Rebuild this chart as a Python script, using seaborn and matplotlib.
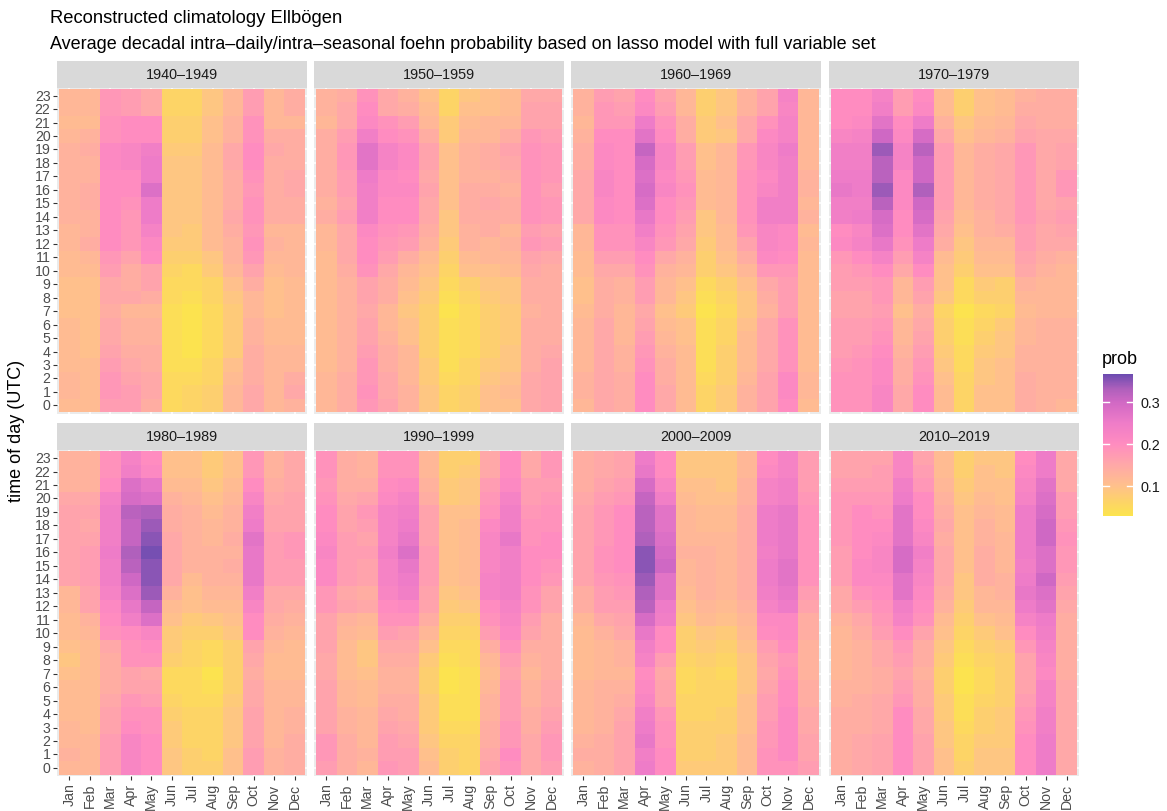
import numpy as np
import pandas as pd
import matplotlib
matplotlib.use("Agg")
import matplotlib.pyplot as plt
import seaborn as sns
from matplotlib.colors import LinearSegmentedColormap

plt.rcParams["font.family"] = ["Liberation Sans", "DejaVu Sans"]

months = ["Jan", "Feb", "Mar", "Apr", "May", "Jun",
          "Jul", "Aug", "Sep", "Oct", "Nov", "Dec"]
hours = list(range(23, -1, -1))  # row order as drawn, top to bottom
decades = ["1940–1949", "1950–1959", "1960–1969", "1970–1979",
           "1980–1989", "1990–1999", "2000–2009", "2010–2019"]

# foehn probability in percent; one list per month, hours 23 -> 0
p1940 = [
    [12, 12, 11, 12, 13, 13, 13, 13, 13, 13, 12, 12, 11, 11, 10, 10, 10, 11, 11, 11, 11, 12, 12, 11],
    [12, 12, 11, 13, 14, 13, 13, 14, 14, 13, 13, 14, 12, 11, 10, 10, 10, 10, 10, 10, 11, 11, 11, 11],
    [18, 18, 19, 19, 21, 21, 20, 20, 20, 20, 20, 20, 18, 17, 15, 15, 14, 15, 15, 16, 17, 18, 18, 17],
    [17, 17, 20, 20, 22, 22, 20, 20, 19, 18, 18, 18, 16, 14, 14, 15, 12, 13, 13, 14, 15, 16, 17, 17],
    [15, 15, 20, 20, 24, 25, 25, 28, 25, 25, 23, 21, 20, 16, 16, 14, 12, 13, 13, 14, 14, 15, 15, 14],
    [6, 6, 7, 7, 8, 9, 9, 9, 9, 9, 9, 8, 7, 6, 5, 5, 4, 4, 4, 4, 4, 5, 5, 5],
    [6, 6, 7, 7, 8, 9, 9, 9, 9, 9, 8, 8, 7, 5, 5, 4, 3, 3, 3, 3, 4, 5, 6, 6],
    [9, 9, 10, 10, 11, 11, 11, 11, 11, 11, 11, 11, 9, 8, 6, 6, 5, 5, 5, 5, 6, 6, 7, 7],
    [12, 12, 13, 13, 15, 15, 14, 14, 14, 15, 14, 13, 13, 12, 10, 9, 8, 8, 8, 8, 10, 11, 12, 12],
    [17, 17, 19, 19, 20, 20, 19, 18, 19, 19, 18, 19, 18, 16, 14, 12, 12, 13, 13, 14, 14, 14, 15, 15],
    [12, 12, 12, 14, 15, 14, 14, 14, 14, 14, 12, 13, 12, 11, 10, 10, 10, 11, 11, 12, 12, 12, 12, 12],
    [14, 14, 12, 14, 14, 14, 15, 15, 14, 14, 12, 12, 12, 12, 11, 11, 11, 11, 11, 12, 12, 14, 15, 13],
]
p1950 = [
    [13, 13, 12, 14, 14, 14, 14, 14, 13, 14, 12, 12, 11, 11, 11, 11, 11, 11, 11, 11, 11, 12, 12, 12],
    [14, 15, 15, 17, 18, 18, 17, 17, 16, 17, 15, 15, 15, 14, 13, 13, 13, 13, 13, 13, 13, 14, 14, 14],
    [19, 20, 21, 24, 27, 27, 25, 24, 24, 24, 21, 20, 20, 19, 16, 16, 15, 16, 16, 17, 18, 18, 19, 18],
    [15, 15, 19, 20, 23, 23, 21, 21, 20, 20, 19, 18, 17, 15, 14, 14, 12, 12, 13, 14, 14, 15, 15, 16],
    [13, 14, 17, 19, 21, 21, 20, 21, 20, 20, 18, 17, 14, 12, 11, 10, 9, 10, 10, 12, 12, 12, 13, 13],
    [10, 11, 12, 14, 16, 16, 15, 16, 15, 15, 14, 13, 11, 10, 9, 8, 7, 7, 7, 7, 8, 8, 9, 9],
    [6, 6, 8, 8, 10, 10, 10, 10, 10, 9, 9, 8, 7, 6, 5, 4, 3, 4, 4, 4, 4, 5, 6, 6],
    [9, 10, 11, 12, 13, 13, 13, 14, 14, 14, 13, 13, 11, 10, 7, 6, 5, 5, 5, 5, 6, 6, 7, 7],
    [10, 10, 12, 12, 14, 14, 13, 14, 15, 14, 14, 12, 12, 10, 9, 8, 7, 7, 7, 7, 8, 9, 10, 10],
    [11, 11, 12, 14, 16, 15, 14, 13, 14, 14, 12, 13, 12, 11, 9, 9, 8, 8, 8, 9, 9, 10, 11, 10],
    [15, 16, 16, 18, 19, 19, 19, 19, 19, 19, 17, 18, 16, 15, 14, 14, 13, 14, 14, 14, 14, 15, 15, 15],
    [15, 16, 16, 17, 18, 18, 18, 17, 18, 18, 16, 17, 15, 14, 14, 14, 14, 14, 14, 15, 16, 16, 16, 16],
]
p1960 = [
    [13, 13, 12, 13, 14, 14, 15, 15, 15, 15, 12, 12, 11, 11, 10, 10, 11, 12, 12, 12, 12, 13, 13, 12],
    [17, 18, 18, 20, 21, 21, 22, 22, 21, 21, 19, 19, 17, 15, 14, 14, 14, 15, 15, 15, 15, 15, 15, 15],
    [16, 17, 18, 20, 20, 20, 20, 20, 20, 20, 19, 19, 17, 15, 13, 13, 12, 12, 12, 13, 13, 14, 14, 14],
    [20, 21, 25, 27, 31, 29, 28, 29, 28, 26, 24, 22, 20, 19, 17, 17, 15, 16, 17, 18, 19, 20, 20, 20],
    [16, 17, 19, 20, 22, 22, 21, 22, 20, 20, 19, 18, 15, 13, 12, 12, 10, 11, 12, 13, 14, 14, 15, 15],
    [12, 12, 14, 14, 17, 17, 18, 19, 18, 17, 16, 15, 13, 12, 10, 9, 8, 10, 10, 11, 11, 11, 11, 11],
    [7, 7, 8, 8, 10, 10, 11, 11, 11, 9, 9, 8, 7, 7, 5, 4, 3, 4, 4, 4, 4, 5, 6, 6],
    [9, 9, 10, 9, 12, 12, 12, 12, 12, 12, 11, 11, 10, 9, 7, 6, 5, 6, 6, 7, 7, 7, 8, 8],
    [13, 13, 15, 15, 18, 18, 19, 19, 19, 19, 18, 16, 14, 12, 10, 9, 9, 10, 11, 11, 11, 12, 13, 13],
    [16, 16, 19, 21, 22, 22, 21, 22, 24, 24, 22, 22, 21, 18, 15, 14, 13, 15, 15, 15, 15, 16, 16, 16],
    [23, 22, 23, 23, 25, 24, 24, 24, 24, 24, 21, 21, 20, 18, 17, 17, 17, 19, 19, 19, 19, 21, 21, 20],
    [12, 12, 12, 12, 12, 12, 13, 13, 12, 13, 11, 12, 11, 11, 11, 11, 11, 11, 11, 11, 11, 12, 12, 11],
]
p1970 = [
    [20, 20, 20, 22, 24, 24, 25, 26, 24, 24, 20, 21, 18, 17, 17, 16, 16, 17, 17, 17, 18, 19, 19, 19],
    [20, 20, 21, 23, 24, 24, 25, 25, 24, 25, 22, 23, 20, 18, 17, 16, 16, 17, 17, 18, 19, 19, 19, 19],
    [23, 24, 27, 30, 34, 32, 32, 34, 32, 29, 28, 26, 23, 20, 18, 18, 17, 18, 19, 20, 21, 21, 22, 22],
    [17, 17, 20, 21, 23, 23, 21, 21, 21, 20, 20, 19, 17, 15, 12, 12, 10, 12, 12, 13, 14, 14, 15, 15],
    [20, 21, 25, 29, 32, 30, 30, 33, 30, 29, 27, 25, 23, 20, 17, 16, 14, 15, 16, 17, 18, 19, 20, 20],
    [11, 11, 13, 15, 17, 17, 17, 17, 17, 16, 15, 14, 11, 10, 10, 9, 6, 7, 7, 8, 9, 10, 11, 11],
    [7, 7, 9, 10, 12, 12, 12, 12, 12, 11, 10, 9, 8, 7, 5, 5, 3, 4, 4, 5, 5, 6, 6, 6],
    [10, 10, 11, 12, 14, 14, 14, 14, 14, 13, 13, 12, 11, 10, 8, 7, 5, 6, 7, 8, 9, 9, 10, 10],
    [11, 11, 12, 13, 15, 15, 15, 15, 15, 15, 14, 12, 11, 10, 7, 7, 6, 8, 9, 9, 10, 10, 10, 10],
    [13, 14, 15, 16, 18, 18, 18, 18, 18, 18, 17, 17, 16, 15, 13, 12, 11, 12, 12, 13, 13, 14, 14, 14],
    [14, 14, 14, 15, 15, 15, 15, 15, 15, 16, 15, 15, 14, 13, 12, 12, 12, 13, 13, 13, 13, 13, 13, 13],
    [14, 14, 14, 15, 16, 16, 18, 18, 16, 17, 16, 15, 13, 12, 12, 12, 12, 13, 13, 13, 13, 13, 13, 12],
]
p1980 = [
    [13, 13, 13, 15, 16, 16, 16, 16, 16, 16, 12, 12, 11, 11, 10, 9, 10, 11, 11, 11, 12, 12, 13, 12],
    [13, 13, 13, 15, 16, 15, 16, 17, 17, 17, 16, 16, 13, 12, 11, 11, 11, 11, 11, 11, 11, 12, 12, 12],
    [19, 19, 20, 23, 24, 24, 24, 25, 24, 24, 23, 21, 20, 19, 15, 14, 14, 14, 15, 16, 16, 17, 17, 17],
    [23, 24, 28, 29, 32, 31, 31, 33, 32, 30, 28, 26, 24, 20, 19, 19, 16, 16, 18, 19, 20, 22, 22, 22],
    [20, 21, 26, 28, 33, 34, 35, 36, 35, 35, 34, 31, 28, 22, 20, 19, 15, 16, 17, 19, 19, 20, 20, 20],
    [10, 10, 11, 13, 14, 14, 15, 15, 15, 15, 13, 11, 10, 8, 8, 7, 5, 5, 6, 7, 8, 8, 9, 9],
    [10, 10, 11, 12, 13, 13, 13, 13, 13, 11, 10, 10, 8, 7, 6, 6, 5, 5, 5, 6, 6, 6, 7, 7],
    [8, 8, 9, 10, 11, 12, 12, 13, 13, 13, 12, 11, 9, 7, 5, 5, 3, 4, 5, 6, 6, 6, 6, 7],
    [10, 10, 11, 12, 13, 13, 14, 13, 14, 13, 12, 11, 10, 9, 7, 7, 7, 7, 8, 9, 9, 9, 10, 10],
    [18, 18, 20, 22, 24, 25, 27, 26, 26, 26, 24, 22, 20, 20, 16, 15, 14, 15, 15, 16, 16, 16, 17, 17],
    [13, 13, 14, 15, 16, 16, 17, 17, 17, 17, 15, 15, 14, 13, 12, 11, 11, 12, 12, 12, 12, 12, 13, 13],
    [15, 15, 15, 16, 16, 16, 18, 18, 17, 17, 15, 14, 13, 12, 11, 11, 11, 12, 12, 13, 13, 14, 14, 14],
]
p1990 = [
    [19, 19, 18, 19, 20, 20, 21, 22, 21, 21, 18, 18, 16, 16, 16, 15, 15, 16, 16, 16, 16, 18, 18, 17],
    [14, 14, 14, 15, 16, 16, 17, 17, 17, 17, 15, 16, 13, 12, 11, 11, 11, 12, 12, 13, 13, 14, 14, 14],
    [13, 13, 14, 16, 18, 17, 16, 17, 16, 16, 14, 15, 12, 11, 9, 9, 10, 11, 11, 12, 12, 12, 13, 12],
    [19, 19, 20, 21, 23, 23, 23, 24, 23, 23, 22, 20, 19, 17, 15, 14, 13, 13, 14, 15, 16, 17, 17, 18],
    [19, 19, 21, 23, 24, 25, 26, 28, 26, 25, 24, 21, 19, 16, 15, 14, 13, 13, 14, 14, 15, 16, 17, 17],
    [12, 12, 13, 14, 16, 16, 16, 17, 17, 17, 16, 16, 14, 12, 10, 8, 7, 7, 8, 8, 8, 9, 10, 11],
    [7, 7, 8, 8, 10, 10, 10, 10, 10, 10, 9, 8, 7, 6, 5, 4, 3, 3, 4, 4, 5, 6, 7, 7],
    [7, 8, 9, 9, 10, 11, 11, 11, 11, 11, 10, 9, 7, 6, 5, 5, 4, 4, 4, 4, 5, 6, 6, 6],
    [15, 15, 17, 18, 19, 21, 22, 22, 22, 23, 23, 20, 19, 17, 14, 12, 11, 12, 13, 13, 14, 14, 15, 16],
    [20, 20, 21, 23, 24, 24, 26, 24, 24, 24, 24, 23, 22, 21, 19, 17, 16, 17, 17, 17, 18, 18, 20, 19],
    [15, 15, 17, 17, 18, 19, 19, 20, 20, 20, 19, 19, 17, 16, 14, 13, 12, 13, 13, 14, 14, 15, 15, 15],
    [18, 18, 17, 18, 19, 19, 20, 20, 19, 18, 16, 16, 14, 14, 14, 14, 14, 15, 15, 16, 17, 18, 18, 17],
]
p2000 = [
    [14, 14, 14, 15, 16, 16, 16, 16, 16, 16, 14, 14, 12, 11, 11, 11, 11, 12, 12, 12, 12, 13, 14, 13],
    [15, 15, 16, 17, 18, 18, 18, 19, 19, 18, 17, 17, 15, 13, 12, 12, 12, 13, 13, 13, 13, 14, 14, 14],
    [16, 16, 17, 18, 20, 20, 20, 20, 20, 19, 18, 17, 16, 15, 13, 13, 12, 13, 14, 15, 16, 16, 16, 16],
    [25, 26, 29, 31, 32, 32, 33, 35, 35, 34, 33, 32, 29, 26, 24, 23, 20, 21, 22, 24, 25, 26, 24, 25],
    [20, 20, 22, 24, 27, 27, 28, 29, 30, 27, 27, 25, 24, 20, 20, 17, 15, 16, 16, 18, 19, 19, 20, 20],
    [9, 9, 10, 11, 12, 12, 12, 13, 12, 12, 11, 10, 9, 7, 7, 6, 5, 5, 6, 6, 7, 7, 7, 8],
    [9, 9, 10, 10, 11, 11, 12, 13, 13, 13, 13, 12, 11, 9, 8, 7, 6, 6, 6, 6, 7, 7, 7, 8],
    [9, 9, 9, 10, 11, 11, 12, 12, 12, 12, 12, 11, 10, 8, 7, 6, 5, 6, 6, 7, 7, 8, 8, 8],
    [12, 12, 13, 13, 14, 14, 14, 14, 14, 14, 14, 13, 12, 11, 10, 9, 9, 9, 10, 10, 10, 11, 11, 11],
    [20, 21, 23, 23, 25, 25, 25, 24, 25, 25, 24, 23, 21, 20, 17, 16, 15, 16, 17, 17, 18, 18, 19, 19],
    [23, 23, 24, 24, 26, 26, 26, 26, 27, 27, 26, 25, 21, 21, 20, 18, 19, 20, 20, 21, 21, 21, 21, 19],
    [17, 17, 17, 18, 19, 19, 19, 19, 19, 19, 17, 16, 14, 14, 13, 13, 13, 14, 14, 15, 15, 16, 16, 17],
]
p2010 = [
    [16, 16, 17, 18, 18, 18, 18, 17, 17, 17, 15, 15, 13, 12, 12, 12, 12, 13, 13, 14, 14, 14, 14, 14],
    [16, 16, 17, 18, 20, 20, 20, 20, 21, 21, 19, 17, 15, 14, 13, 13, 13, 13, 14, 14, 14, 15, 15, 15],
    [16, 17, 17, 18, 19, 20, 21, 22, 22, 21, 20, 19, 18, 17, 15, 15, 14, 14, 15, 15, 15, 16, 16, 16],
    [22, 22, 24, 25, 27, 27, 27, 29, 29, 27, 27, 24, 23, 20, 18, 17, 16, 17, 18, 20, 20, 20, 20, 20],
    [16, 17, 18, 20, 20, 21, 22, 24, 23, 22, 21, 20, 19, 16, 14, 14, 13, 14, 14, 15, 15, 16, 16, 16],
    [11, 11, 12, 13, 14, 15, 14, 15, 15, 15, 14, 13, 11, 10, 9, 8, 7, 7, 8, 8, 9, 9, 10, 10],
    [7, 7, 8, 9, 10, 10, 10, 10, 10, 9, 9, 8, 7, 6, 5, 4, 3, 3, 4, 4, 5, 6, 6, 7],
    [9, 10, 10, 11, 12, 13, 13, 14, 14, 14, 12, 12, 10, 8, 7, 6, 5, 5, 6, 7, 7, 8, 9, 9],
    [9, 9, 10, 10, 11, 11, 12, 12, 12, 13, 13, 12, 11, 10, 8, 7, 7, 7, 7, 8, 8, 8, 9, 9],
    [20, 21, 22, 23, 25, 25, 25, 25, 24, 25, 26, 25, 23, 20, 18, 16, 16, 16, 17, 18, 19, 20, 20, 20],
    [25, 25, 27, 28, 29, 30, 30, 28, 28, 30, 28, 27, 25, 24, 23, 22, 21, 23, 23, 24, 24, 25, 25, 25],
    [15, 15, 15, 17, 17, 18, 19, 18, 18, 17, 16, 15, 14, 14, 14, 14, 14, 15, 15, 15, 15, 15, 15, 15],
]
panels = [p1940, p1950, p1960, p1970, p1980, p1990, p2000, p2010]

# colour scale (yellow -> pink -> purple)
vmin, vmax = 0.028, 0.366
anchors = [(0.028, "#FCE44E"), (0.06, "#FDD466"), (0.10, "#FFC08C"),
           (0.15, "#FFA8A8"), (0.20, "#FF8CC0"), (0.25, "#EE7CC8"),
           (0.30, "#D068C4"), (0.33, "#B060BC"), (0.366, "#6C4CB0")]
cmap = LinearSegmentedColormap.from_list(
    "foehn", [((v - vmin) / (vmax - vmin), c) for v, c in anchors])

W, H = 1167, 812
fig = plt.figure(figsize=(W / 100, H / 100), dpi=100)


def box(x0, y0, x1, y1):
    # pixel box (top-left origin) -> figure fraction
    return [x0 / W, 1 - y1 / H, (x1 - x0) / W, (y1 - y0) / H]


col_x = [57, 314, 571, 829]
pw = 250
row_y = [(62, 88.5, 414.5), (424, 451, 777)]
small = 10.2

mesh = None
for i, (dec, vals) in enumerate(zip(decades, panels)):
    r, c = divmod(i, 4)
    sy, py0, py1 = row_y[r]
    x0 = col_x[c]
    ax = fig.add_axes(box(x0, py0, x0 + pw, py1))
    df = pd.DataFrame(np.array(vals).T / 100, index=hours, columns=months)
    sns.heatmap(df, ax=ax, cmap=cmap, vmin=vmin, vmax=vmax, cbar=False,
                xticklabels=True, yticklabels=True)
    mesh = ax.collections[0]
    ax.set_facecolor("#EBEBEB")
    ax.set_xlim(-0.1, 12.1)
    ax.set_ylim(24.1, -0.1)
    ax.set_axisbelow(True)
    ax.grid(True, color="white", linewidth=1.1)
    for s in ax.spines.values():
        s.set_visible(False)
    ax.set_xlabel("")
    ax.set_ylabel("")
    ax.tick_params(length=2.75, width=0.8, color="#333333",
                   labelsize=small, labelcolor="#4D4D4D", pad=2)
    if c == 0:
        ax.set_yticklabels([str(h) for h in hours], rotation=0)
    else:
        ax.tick_params(axis="y", left=False, labelleft=False)
    if r == 0:
        ax.tick_params(axis="x", bottom=False, labelbottom=False)
    else:
        ax.set_xticklabels(months, rotation=90)

    # facet strip
    sax = fig.add_axes(box(x0, sy, x0 + pw, py0))
    sax.set_facecolor("#D9D9D9")
    sax.set_xticks([])
    sax.set_yticks([])
    for s in sax.spines.values():
        s.set_visible(False)
    sax.text(0.5, 0.5, dec, ha="center", va="center", fontsize=10.4,
             color="#1A1A1A", transform=sax.transAxes)

fig.text(50 / W, 1 - 23 / H, "Reconstructed climatology Ellbögen",
         fontsize=13.2, va="baseline", ha="left")
fig.text(50 / W, 1 - 49 / H,
         "Average decadal intra–daily/intra–seasonal foehn probability based on lasso model with full variable set",
         fontsize=13, va="baseline", ha="left")
fig.text(17 / W, 1 - 431 / H, "time of day (UTC)", rotation=90,
         fontsize=13, ha="center", va="center")

# legend
cax = fig.add_axes(box(1103, 375, 1133, 517))
cb = fig.colorbar(mesh, cax=cax)
cb.outline.set_visible(False)
cb.set_ticks([0.1, 0.2, 0.3])
cb.set_ticklabels(["0.1", "0.2", "0.3"])
cax.tick_params(length=0, labelsize=10.4, pad=5.5, labelcolor="#1A1A1A")
for v in [0.1, 0.2, 0.3]:
    cax.axhline(v, 0, 0.2, color="white", linewidth=1)
    cax.axhline(v, 0.8, 1, color="white", linewidth=1)
fig.text(1102 / W, 1 - 364 / H, "prob", fontsize=13, va="baseline", ha="left")

fig.savefig("out.png", dpi=100)
